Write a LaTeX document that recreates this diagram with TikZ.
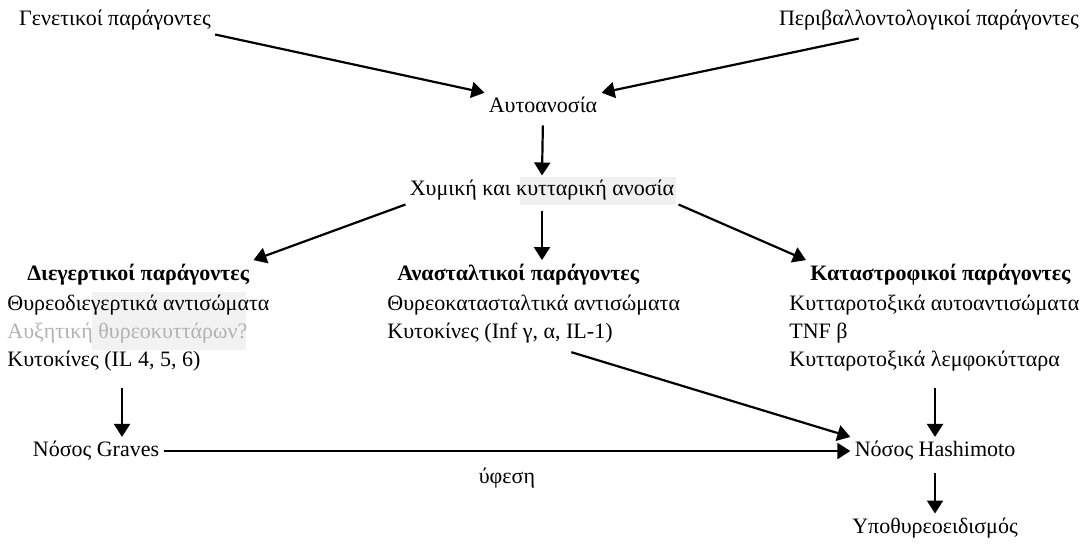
\documentclass[tikz,border=0pt]{standalone}
\usepackage{fontspec}
\setmainfont{Liberation Serif}
\usetikzlibrary{arrows.meta,positioning}
\tikzset{
  txt/.style={inner sep=2pt, font=\fontsize{11}{13}\selectfont},
  lft/.style={txt, anchor=west},
  hdr/.style={txt, anchor=west, font=\fontsize{11}{13}\selectfont\bfseries},
  ar/.style={-{Triangle[length=6.5pt,width=8pt]}, line width=1.1pt},
}

\begin{document}
\begin{tikzpicture}[x=0.5pt,y=-0.5pt]
\useasboundingbox (0,0) rectangle (1091,548);
% scan shading
\fill[black!6] (520,177) rectangle (676,205);
\fill[black!5] (92,292) rectangle (246,350);

\node[txt] (gen) at (115,20) {Γενετικοί παράγοντες};
\node[txt] (env) at (929,20) {Περιβαλλοντολογικοί παράγοντες};
\node[txt] (auto) at (543,105) {Αυτοανοσία};
\node[txt] (immune) at (542,190) {Χυμική και κυτταρική ανοσία};

\node[hdr] (stim) at (23,275) {Διεγερτικοί παράγοντες};
\node[lft] (stimA) at (3,305) {Θυρεοδιεγερτικά αντισώματα};
\node[lft,text=black!30] (stimB) at (3,333) {Αυξητική θυρεοκυττάρων?};
\node[lft] (cytA) at (3,361) {Κυτοκίνες (IL 4, 5, 6)};

\node[hdr] (inhib) at (393,275) {Ανασταλτικοί παράγοντες};
\node[lft] (inhibA) at (383,305) {Θυρεοκατασταλτικά αντισώματα};
\node[lft] (cytB) at (383,333) {Κυτοκίνες (Inf γ, α, IL-1)};

\node[hdr] (destr) at (806,275) {Καταστροφικοί παράγοντες};
\node[lft] (destrA) at (785,305) {Κυτταροτοξικά αυτοαντισώματα};
\node[lft] (tnf) at (785,333) {TNF β};
\node[lft] (lymph) at (785,361) {Κυτταροτοξικά λεμφοκύτταρα};

\node[txt] (graves) at (96,451) {Νόσος Graves};
\node[txt] (hash) at (935,451) {Νόσος Hashimoto};
\node[txt] (hypo) at (935,528) {Υποθυρεοειδισμός};

\coordinate (gv) at ([xshift=13pt]graves.north);
\coordinate (envout) at ([xshift=42pt,yshift=-2pt]env.south west);
\coordinate (cytout) at ([xshift=28pt]cytB.south);

\draw[ar] (gen.south east) -- (auto.north west);
\draw[ar] (envout) -- (auto.north east);
\draw[ar,shorten <=4pt] (auto.south) -- (immune.north);
\draw[ar] (immune.south west) -- (stim.north east);
\draw[ar,shorten <=3pt] (immune.south) -- (immune.south |- inhib.north);
\draw[ar] (immune.south east) -- (destr.north west);
\draw[ar,shorten <=6pt] (gv |- cytA.south) -- (gv);
\draw[ar,shorten <=6pt] (lymph.south -| hash.north) -- (hash.north);
\draw[ar,shorten <=8pt] (cytout) -- (hash.north west);
\draw[ar] (graves.east) -- node[txt,below=6pt] (remit) {ύφεση} (hash.west);
\draw[ar,shorten <=4pt] (hash.south) -- (hypo.north);
\end{tikzpicture}
\end{document}
